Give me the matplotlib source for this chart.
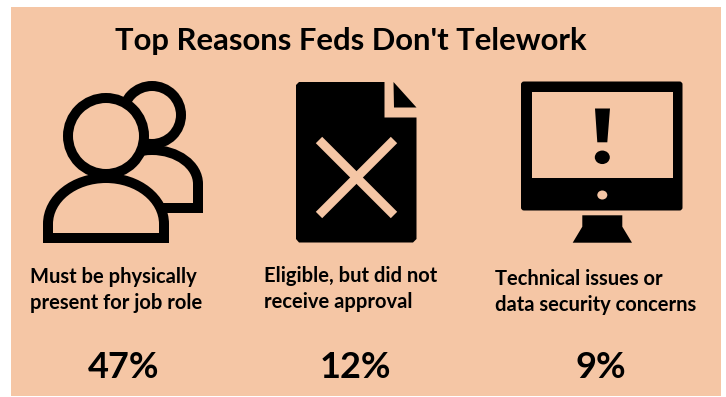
import matplotlib
matplotlib.use("Agg")
import matplotlib.pyplot as plt
from matplotlib.patches import Circle, Ellipse, Polygon, FancyBboxPatch, Rectangle, PathPatch
from matplotlib.path import Path

TITLE = "Top Reasons Feds Don't Telework"
REASONS = [
    "Must be physically\npresent for job role",
    "Eligible, but did not\nreceive approval",
    "Technical issues or\ndata security concerns",
]
SHARES = [47, 12, 9]

BG = "#F5C6A5"
INK = "#000000"
FONT = "Lato"

fig = plt.figure(figsize=(7.26, 3.97), dpi=100, facecolor="white")
ax = fig.add_axes([0, 0, 1, 1])
ax.set_xlim(0, 726)
ax.set_ylim(397, 0)
ax.axis("off")

ax.add_patch(Rectangle((11, 6.5), 709.5, 389.5, fc=BG, ec="none"))


def person(cx, head_y, head_r, left, right, top, bottom, ry, lw):
    """Outlined head over a dome-shaped torso; the fill hides anything behind it."""
    rx = (right - left) / 2
    k = 0.5523
    mid = (left + right) / 2
    verts = [
        (left, bottom), (left, top + ry),
        (left, top + ry - k * ry), (mid - k * rx, top), (mid, top),
        (mid + k * rx, top), (right, top + ry - k * ry), (right, top + ry),
        (right, bottom), (left, bottom), (left, bottom),
    ]
    codes = [Path.MOVETO, Path.LINETO,
             Path.CURVE4, Path.CURVE4, Path.CURVE4,
             Path.CURVE4, Path.CURVE4, Path.CURVE4,
             Path.LINETO, Path.LINETO, Path.CLOSEPOLY]
    lw_pt = lw * 72 / 100
    ax.add_patch(PathPatch(Path(verts, codes), fc=BG, ec=INK, lw=lw_pt, joinstyle="miter"))
    ax.add_patch(Circle((cx, head_y), head_r, fc=BG, ec=INK, lw=lw_pt))


def people_icon():
    person(152, 115, 29, 106, 198, 150, 208, 34, 10)
    person(106, 136, 38, 48, 164, 178, 238, 46, 10)


def document_icon():
    body = [(296, 85), (299, 82), (384.5, 82), (384.5, 117.5), (416.5, 117.5),
            (416.5, 239), (413, 242.5), (299, 242.5), (296, 239)]
    ax.add_patch(Polygon(body, closed=True, fc=INK, ec="none"))
    ax.add_patch(Polygon([(393.5, 82), (416.5, 107.5), (394, 107.5)], closed=True, fc=INK, ec="none"))
    for x0, y0, x1, y1 in [(319, 140, 394, 215), (394, 140, 319, 215)]:
        ax.plot([x0, x1], [y0, y1], color=BG, lw=9 * 72 / 100, solid_capstyle="butt")


def monitor_icon():
    ax.add_patch(FancyBboxPatch((524, 84.5), 155.5, 123, boxstyle="round,pad=3,rounding_size=3",
                                fc=INK, ec="none"))
    ax.add_patch(Rectangle((531.7, 92.3), 141, 85.4, fc=BG, ec="none"))
    ax.add_patch(Polygon([(595, 108.5), (610, 108.5), (607.3, 142.3), (597.3, 142.3)],
                         closed=True, fc=INK, ec="none"))
    ax.add_patch(Ellipse((602.3, 157.3), 15, 13.5, fc=INK, ec="none"))
    ax.add_patch(Ellipse((602.3, 195), 10, 9, fc=BG, ec="none"))
    ax.add_patch(Polygon([(582.3, 215.3), (622.3, 215.3), (622.3, 226.7), (632, 242.7),
                          (572.7, 242.7), (582.3, 226.7)], closed=True, fc=INK, ec="none"))


people_icon()
document_icon()
monitor_icon()

ax.text(350.5, 41, TITLE, family=FONT, weight="bold", fontsize=22.3, ha="center", va="center", color=INK)

for x, y, reason in zip([30, 264, 495], [290, 289, 292], REASONS):
    ax.text(x, y, reason, family=FONT, weight="bold", fontsize=14.5, ha="left", va="center",
            linespacing=1.35, color=INK)

for x, share in zip([123.5, 355.5, 601], SHARES):
    ax.text(x, 367, f"{share}%", family=FONT, weight="bold", fontsize=26, ha="center", va="center", color=INK)

fig.savefig("out.png", dpi=100, facecolor="white")
